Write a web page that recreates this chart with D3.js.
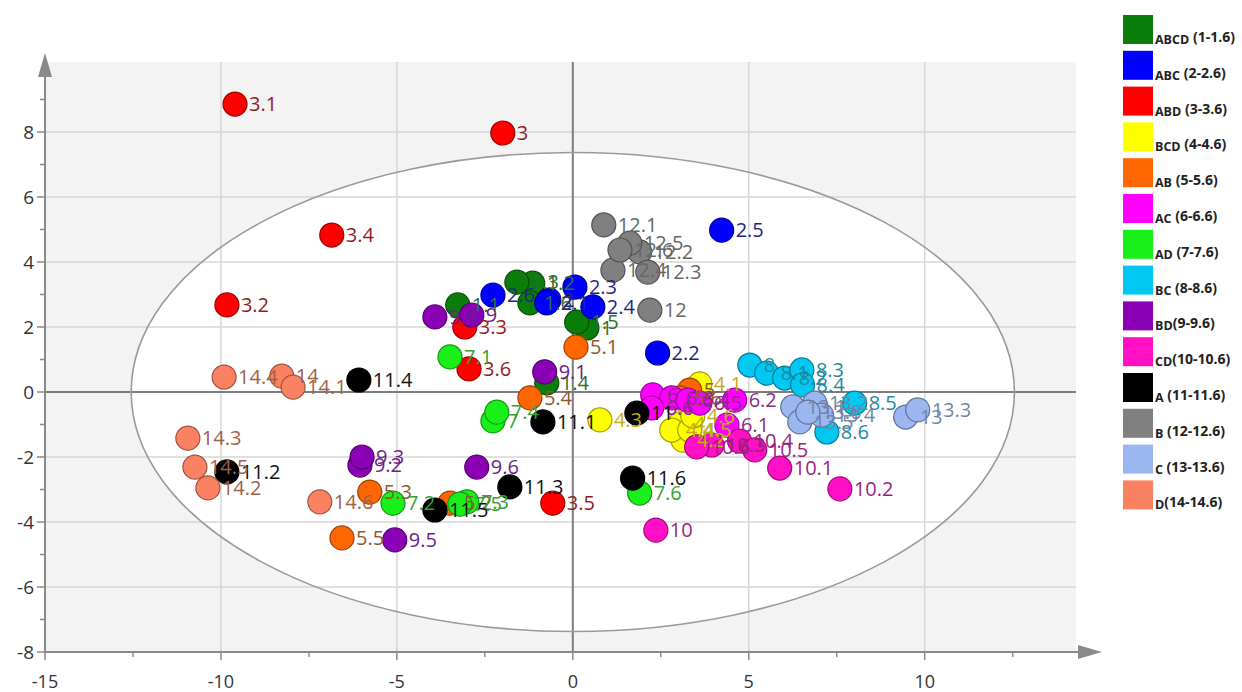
<!DOCTYPE html>
<html>
<head>
<meta charset="utf-8">
<script src="https://cdn.jsdelivr.net/npm/d3@7"></script>
<style>
  html, body { margin: 0; padding: 0; background: #fff; }
  svg { display: block; }
</style>
</head>
<body>
<svg id="chart" width="1242" height="692"></svg>
<script>
// Treatment groups (legend order)
const groupNames  = ["ABCD", "ABC", "ABD", "BCD", "AB", "AC", "AD", "BC", "BD", "CD", "A", "B", "C", "D"];
const groupRanges = ["(1-1.6)", "(2-2.6)", "(3-3.6)", "(4-4.6)", "(5-5.6)", "(6-6.6)", "(7-7.6)",
                     "(8-8.6)", "(9-9.6)", "(10-10.6)", "(11-11.6)", "(12-12.6)", "(13-13.6)", "(14-14.6)"];
const groupColors = ["#0a7d0a", "#0000ff", "#ff0000", "#ffff00", "#ff6600", "#ff00ff", "#19f019",
                     "#00c8f2", "#8a00b4", "#ff10c4", "#000000", "#808080", "#9cb6f2", "#fa8263"];
const labelColors = ["#2f6e2f", "#26267e", "#8e2222", "#bfae18", "#8c5a30", "#8a2a8a", "#34a234",
                     "#1f8a9e", "#6a1f8a", "#9a1f7e", "#111111", "#676767", "#6f86a8", "#a0604a"];

// Score plot: [sample, t1, t2]
const scores = [
  ["1", 0.40, 1.97], ["1.1", -3.27, 2.68], ["1.2", -1.14, 3.35], ["1.3", -1.59, 3.38],
  ["1.4", -0.74, 0.28], ["1.5", 0.11, 2.15], ["1.6", -1.22, 2.74],
  ["2", -0.68, 2.83], ["2.1", -0.74, 2.74], ["2.2", 2.41, 1.20], ["2.3", 0.06, 3.23],
  ["2.4", 0.57, 2.62], ["2.5", 4.23, 4.98], ["2.6", -2.27, 2.98],
  ["3", -1.99, 7.97], ["3.1", -9.60, 8.86], ["3.2", -9.83, 2.68], ["3.3", -3.07, 2.00],
  ["3.4", -6.85, 4.83], ["3.5", -0.57, -3.42], ["3.6", -2.95, 0.71],
  ["4", 3.04, -0.98], ["4.1", 3.61, 0.25], ["4.2", 3.13, -1.48], ["4.3", 0.77, -0.86],
  ["4.4", 2.81, -1.17], ["4.5", 3.32, -1.17], ["4.6", 3.41, -0.74],
  ["5", 3.32, 0.06], ["5.1", 0.09, 1.38], ["5.2", -3.49, -3.42], ["5.3", -5.77, -3.08],
  ["5.4", -1.22, -0.18], ["5.5", -6.56, -4.49], ["5.6", 3.04, -0.18],
  ["6", 2.27, -0.09], ["6.1", 4.38, -1.02], ["6.2", 4.60, -0.25], ["6.3", 2.81, -0.18],
  ["6.4", 3.27, -0.25], ["6.5", 3.61, -0.34], ["6.6", 2.24, -0.49],
  ["7", -2.27, -0.89], ["7.1", -3.49, 1.08], ["7.2", -5.11, -3.42], ["7.3", -3.01, -3.38],
  ["7.4", -2.16, -0.62], ["7.5", -3.21, -3.45], ["7.6", 1.90, -3.11],
  ["8", 5.03, 0.83], ["8.1", 5.51, 0.58], ["8.2", 6.02, 0.43], ["8.3", 6.51, 0.68],
  ["8.4", 6.53, 0.22], ["8.5", 8.01, -0.34], ["8.6", 7.22, -1.23],
  ["9", -2.87, 2.37], ["9.1", -0.80, 0.62], ["9.2", -6.05, -2.25], ["9.3", -5.99, -2.00],
  ["9.4", -3.92, 2.31], ["9.5", -5.06, -4.55], ["9.6", -2.73, -2.31],
  ["10", 2.36, -4.25], ["10.1", 5.88, -2.34], ["10.2", 7.59, -2.98], ["10.3", 3.95, -1.63],
  ["10.4", 4.74, -1.51], ["10.5", 5.17, -1.78], ["10.6", 3.52, -1.69],
  ["11", 1.82, -0.65], ["11.1", -0.85, -0.92], ["11.2", -9.83, -2.46], ["11.3", -1.79, -2.92],
  ["11.4", -6.08, 0.37], ["11.5", -3.92, -3.63], ["11.6", 1.70, -2.65],
  ["12", 2.19, 2.52], ["12.1", 0.88, 5.14], ["12.2", 1.90, 4.31], ["12.3", 2.13, 3.69],
  ["12.4", 1.14, 3.75], ["12.5", 1.62, 4.58], ["12.6", 1.34, 4.37],
  ["13", 9.46, -0.77], ["13.1", 6.25, -0.46], ["13.2", 6.88, -0.34], ["13.3", 9.80, -0.55],
  ["13.4", 7.07, -0.71], ["13.5", 6.45, -0.92], ["13.6", 6.68, -0.62],
  ["14", -8.27, 0.49], ["14.1", -7.95, 0.15], ["14.2", -10.37, -2.95], ["14.3", -10.94, -1.42],
  ["14.4", -9.91, 0.46], ["14.5", -10.74, -2.31], ["14.6", -7.19, -3.38]
];

// Axis ticks and confidence ellipse (semi-axes in score units)
const xMajorTicks = [-15, -10, -5, 0, 5, 10];
const xMinorTicks = [-12.5, -7.5, -2.5, 2.5, 7.5, 12.5];
const yMajorTicks = [-8, -6, -4, -2, 0, 2, 4, 6, 8];
const yMinorTicks = [-7, -5, -3, -1, 1, 3, 5, 7, 9];
const ellipseRadii = [12.55, 7.37];

const svg = d3.select("#chart");
const x = d3.scaleLinear().domain([-15, 14.3]).range([45, 1076]);
const y = d3.scaleLinear().domain([-8, 10]).range([652, 67]);

const x0 = x.range()[0], x1 = x.range()[1];
const y0 = y.range()[0], y1 = y.range()[1];

// plot background
svg.append("rect").attr("x", x0).attr("y", y1 - 5)
  .attr("width", x1 - x0).attr("height", y0 - y1 + 5)
  .attr("fill", "#f3f3f3");

// ellipse interior
const ell = {
  cx: x(0), cy: y(0),
  rx: x(ellipseRadii[0]) - x(0),
  ry: y(0) - y(ellipseRadii[1])
};
svg.append("ellipse").attr("cx", ell.cx).attr("cy", ell.cy)
  .attr("rx", ell.rx).attr("ry", ell.ry).attr("fill", "#ffffff");

// grid
const grid = svg.append("g").attr("stroke", "#d6d6d6").attr("stroke-width", 1.5);
grid.selectAll("line.gx").data(xMajorTicks.filter(d => d !== 0 && d !== -15)).join("line")
  .attr("x1", d => x(d)).attr("x2", d => x(d)).attr("y1", y1 - 5).attr("y2", y0);
grid.selectAll("line.gy").data(yMajorTicks.filter(d => d !== 0 && d !== -8)).join("line")
  .attr("x1", x0).attr("x2", x1).attr("y1", d => y(d)).attr("y2", d => y(d));

// zero lines
svg.append("line").attr("x1", x(0)).attr("x2", x(0)).attr("y1", y1 - 5).attr("y2", y0)
  .attr("stroke", "#7d7d7d").attr("stroke-width", 2);
svg.append("line").attr("x1", x0).attr("x2", x1).attr("y1", y(0)).attr("y2", y(0))
  .attr("stroke", "#7d7d7d").attr("stroke-width", 2);

// ellipse outline
svg.append("ellipse").attr("cx", ell.cx).attr("cy", ell.cy)
  .attr("rx", ell.rx).attr("ry", ell.ry)
  .attr("fill", "none").attr("stroke", "#9a9a9a").attr("stroke-width", 1.6);

// axes
const axisColor = "#8a8a8a";
const axes = svg.append("g");
axes.append("line").attr("x1", x0).attr("x2", x1 + 4).attr("y1", y0).attr("y2", y0)
  .attr("stroke", axisColor).attr("stroke-width", 2);
axes.append("line").attr("x1", x0).attr("x2", x0).attr("y1", y0).attr("y2", y1 - 4)
  .attr("stroke", axisColor).attr("stroke-width", 2);
axes.append("path")
  .attr("d", `M${x1 + 2},${y0 - 7} L${x1 + 26},${y0} L${x1 + 2},${y0 + 7} Z`)
  .attr("fill", axisColor);
axes.append("path")
  .attr("d", `M${x0 - 7},${y1 + 10} L${x0},${y1 - 14} L${x0 + 7},${y1 + 10} Z`)
  .attr("fill", axisColor);

axes.selectAll("line.xt").data(xMajorTicks).join("line")
  .attr("x1", d => x(d)).attr("x2", d => x(d)).attr("y1", y0).attr("y2", y0 + 8)
  .attr("stroke", axisColor).attr("stroke-width", 1.5);
axes.selectAll("line.xm").data(xMinorTicks).join("line")
  .attr("x1", d => x(d)).attr("x2", d => x(d)).attr("y1", y0).attr("y2", y0 + 5)
  .attr("stroke", axisColor).attr("stroke-width", 1.5);
axes.selectAll("line.yt").data(yMajorTicks).join("line")
  .attr("x1", x0 - 8).attr("x2", x0).attr("y1", d => y(d)).attr("y2", d => y(d))
  .attr("stroke", axisColor).attr("stroke-width", 1.5);
axes.selectAll("line.ym").data(yMinorTicks).join("line")
  .attr("x1", x0 - 5).attr("x2", x0).attr("y1", d => y(d)).attr("y2", d => y(d))
  .attr("stroke", axisColor).attr("stroke-width", 1.5);

const tickFont = "'Open Sans', 'Segoe UI', sans-serif";
axes.selectAll("text.xl").data(xMajorTicks).join("text")
  .attr("x", d => x(d)).attr("y", 688)
  .attr("text-anchor", "middle").attr("font-family", tickFont).attr("font-size", 18)
  .attr("fill", "#333").text(d => d);
axes.selectAll("text.yl").data(yMajorTicks).join("text")
  .attr("x", x0 - 11).attr("y", d => y(d)).attr("dy", "0.36em")
  .attr("text-anchor", "end").attr("font-family", tickFont).attr("font-size", 19)
  .attr("fill", "#333").text(d => d);

// points
const groupOf = s => Math.floor(parseFloat(s)) - 1;
const pts = svg.append("g");
pts.selectAll("circle").data(scores).join("circle")
  .attr("cx", d => x(d[1])).attr("cy", d => y(d[2])).attr("r", 12)
  .attr("fill", d => groupColors[groupOf(d[0])])
  .attr("stroke", d => d3.color(groupColors[groupOf(d[0])]).darker(1.3))
  .attr("stroke-width", 1.2);

// sample labels
svg.append("g").selectAll("text").data(scores).join("text")
  .attr("x", d => x(d[1]) + 14).attr("y", d => y(d[2]))
  .attr("dy", "0.36em")
  .attr("font-family", tickFont).attr("font-size", 20)
  .attr("fill", d => labelColors[groupOf(d[0])])
  .text(d => d[0]);

// legend
const legend = svg.append("g");
const lg = legend.selectAll("g").data(groupNames).join("g")
  .attr("transform", (d, i) => `translate(1123,${15 + i * 35.8})`);
lg.append("rect").attr("width", 30).attr("height", 29)
  .attr("fill", (d, i) => groupColors[i]);
const lt = lg.append("text").attr("x", 32).attr("y", 29)
  .attr("font-family", "'Open Sans', sans-serif").attr("font-weight", "bold")
  .attr("fill", "#222");
lt.append("tspan").attr("font-size", 12.5).text(d => d);
lt.append("tspan").attr("font-size", 14).attr("dy", -2)
  .text((d, i) => (["BD", "CD", "D"].includes(d) ? "" : " ") + groupRanges[i]);
</script>
</body>
</html>
